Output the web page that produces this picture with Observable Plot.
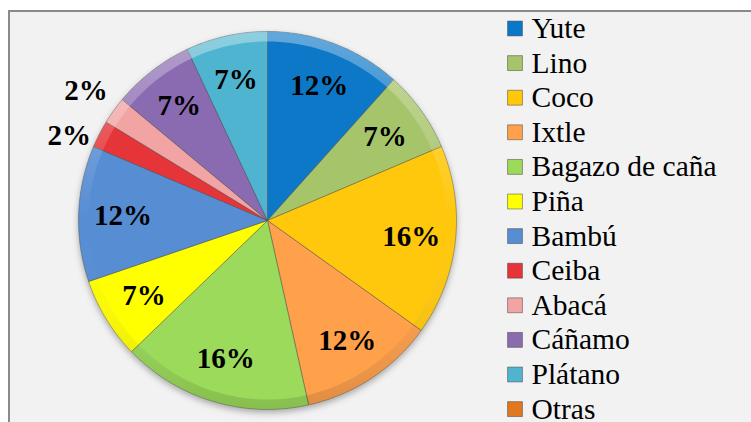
<!DOCTYPE html>
<html>
<head>
<meta charset="utf-8">
<script src="https://cdn.jsdelivr.net/npm/d3@7"></script>
<script src="https://cdn.jsdelivr.net/npm/@observablehq/plot@0.6"></script>
<style>
  html, body { margin: 0; padding: 0; background: #ffffff; overflow: hidden; }
  #frame { position: absolute; left: 8px; top: 10px; width: 760px; height: 430px;
           background: #f2f2f2; border-left: 2px solid #8a8a8a; border-top: 2px solid #8a8a8a; }
  #chart { position: absolute; left: 0; top: 0; }
  #chart svg { background: none !important; }
</style>
</head>
<body>
<div id="frame"></div>
<div id="chart"></div>
<script>
const names = ["Yute", "Lino", "Coco", "Ixtle", "Bagazo de caña", "Piña", "Bambú", "Ceiba", "Abacá", "Cáñamo", "Plátano", "Otras"];
const counts = [5, 3, 7, 5, 7, 3, 5, 1, 1, 3, 3, 0];
const colors = ["#0a78c8", "#a6c46a", "#ffc808", "#ffa04c", "#9bda5a", "#ffff00", "#568dd3", "#e63539", "#f2a4a4", "#8a6bb0", "#50b4cf", "#e0781e"];

const W = 751, H = 422;
const cx = 267, cy = 220, R = 189;
const SERIF = "Liberation Serif";
const total = d3.sum(counts);
const arcs = d3.pie().sort(null).value(d => d)(counts);

// slice polygons
const slicePts = [];
arcs.forEach((a, i) => {
  if (a.endAngle - a.startAngle <= 0) return;
  slicePts.push({name: names[i], color: colors[i], x: cx, y: cy});
  const n = Math.max(2, Math.ceil((a.endAngle - a.startAngle) / (Math.PI / 180)));
  for (let k = 0; k <= n; k++) {
    const t = a.startAngle + (a.endAngle - a.startAngle) * k / n;
    slicePts.push({name: names[i], color: colors[i], x: cx + R * Math.sin(t), y: cy - R * Math.cos(t)});
  }
  slicePts.push({name: names[i], color: colors[i], x: cx, y: cy});
});

// rim ring
const ringPts = d3.range(0, 361, 2).map(d => {
  const t = d * Math.PI / 180;
  return {x: cx + (R - 5) * Math.sin(t), y: cy - (R - 5) * Math.cos(t)};
});

// labels
const labels = [];
arcs.forEach((a, i) => {
  if (counts[i] === 0) return;
  const p = counts[i] / total;
  const mid = (a.startAngle + a.endAngle) / 2;
  const outside = p < 0.04;
  const rr = outside ? R * 1.18 : R * 0.765;
  labels.push({text: Math.round(p * 100) + "%", x: cx + rr * Math.sin(mid), y: cy - rr * Math.cos(mid), outside});
});
// simple collision avoidance for outside labels
const out = labels.filter(d => d.outside).sort((a, b) => a.y - b.y);
for (let k = 1; k < out.length; k++) {
  if (out[k].y - out[k - 1].y < 45) out[k].y = out[k - 1].y + 45;
}

const legend = names.map((n, i) => ({name: n, color: colors[i], i}));
const rowY = i => 28 + i * 34.6;

const chart = Plot.plot({
  width: W, height: H,
  margin: 0,
  x: {domain: [0, W], range: [0, W], axis: null},
  y: {domain: [0, H], range: [0, H], axis: null},
  style: {background: "none", overflow: "visible"},
  marks: [
    Plot.line(slicePts, {x: "x", y: "y", z: "name", fill: "color", stroke: "#4a4a4a", strokeOpacity: 0.45, strokeWidth: 1, curve: "linear", className: "pie"}),
    Plot.line(ringPts, {x: "x", y: "y", stroke: "url(#rimgrad)", strokeWidth: 10, curve: "linear"}),
    Plot.text(labels, {x: "x", y: "y", text: "text", fontSize: 29, fontWeight: "bold", fontFamily: SERIF, fill: "#000", lineAnchor: "middle"}),
    Plot.dot(legend, {x: 514.5, y: d => rowY(d.i), symbol: "square", r: 8.4, fill: "color", stroke: "#444", strokeOpacity: 0.5, strokeWidth: 1}),
    Plot.text(legend, {x: 531, y: d => rowY(d.i), text: "name", textAnchor: "start", lineAnchor: "middle", fontSize: 29.5, fontFamily: SERIF, fill: "#000"})
  ]
});

const svg = d3.select(chart);
const defs = svg.insert("defs", ":first-child");
const g = defs.append("linearGradient").attr("id", "rimgrad").attr("x1", 0).attr("y1", 0).attr("x2", 0).attr("y2", 1);
g.append("stop").attr("offset", "0%").attr("stop-color", "#ffffff").attr("stop-opacity", 0.35);
g.append("stop").attr("offset", "50%").attr("stop-color", "#ffffff").attr("stop-opacity", 0.0);
g.append("stop").attr("offset", "100%").attr("stop-color", "#000000").attr("stop-opacity", 0.12);
const f = defs.append("filter").attr("id", "shadow").attr("x", "-10%").attr("y", "-10%").attr("width", "120%").attr("height", "125%");
f.append("feDropShadow").attr("dx", 0).attr("dy", 3).attr("stdDeviation", 3).attr("flood-color", "#000").attr("flood-opacity", 0.3);
svg.select(".pie").attr("filter", "url(#shadow)");

document.getElementById("chart").appendChild(chart);
</script>
</body>
</html>
